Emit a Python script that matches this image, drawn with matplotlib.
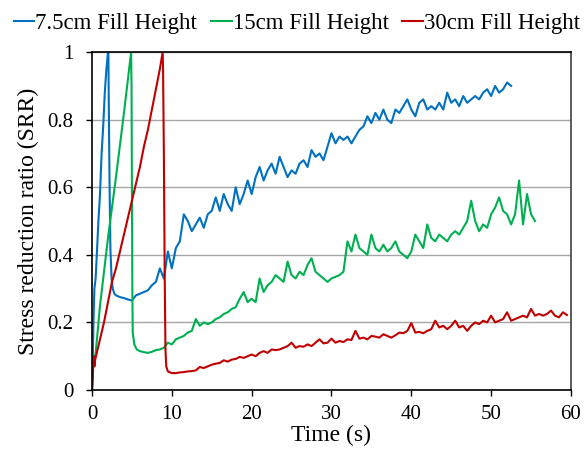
import numpy as np
from matplotlib import pyplot as plt

plt.rcParams['font.family'] = ['Liberation Serif', 'DejaVu Serif']

labels = ['7.5cm Fill Height', '15cm Fill Height', '30cm Fill Height']
colors = ['#0070C0', '#00B050', '#C00000']

# loading ramp + drop
blue_t_ramp = [0, 0.1, 0.2, 0.3, 0.45, 0.6, 0.8, 1.0, 1.2, 1.4, 1.6, 1.8, 2.0, 2.05,
               2.1, 2.2, 2.3, 2.45, 2.6, 2.8]
blue_y_ramp = [0, 0.10, 0.22, 0.30, 0.33, 0.40, 0.50, 0.58, 0.70, 0.78, 0.88, 0.95, 1.0, 1.0,
               0.85, 0.60, 0.42, 0.33, 0.30, 0.285]
# after the drop, sampled every 0.5 s from t0
blue_t0 = 3.0
blue_tail = [0.28, 0.275, 0.272, 0.268, 0.265, 0.28, 0.285, 0.29, 0.295, 0.31,
             0.32, 0.36, 0.33, 0.41, 0.36, 0.42, 0.44, 0.52, 0.50, 0.47,
             0.49, 0.51, 0.48, 0.52, 0.53, 0.57, 0.53, 0.58, 0.55, 0.53,
             0.60, 0.55, 0.58, 0.62, 0.58, 0.63, 0.66, 0.62, 0.65, 0.67,
             0.64, 0.69, 0.66, 0.63, 0.65, 0.64, 0.67, 0.68, 0.66, 0.71,
             0.69, 0.70, 0.68, 0.72, 0.76, 0.73, 0.75, 0.74, 0.75, 0.73,
             0.75, 0.77, 0.78, 0.81, 0.79, 0.82, 0.80, 0.83, 0.80, 0.79,
             0.83, 0.82, 0.84, 0.86, 0.83, 0.81, 0.85, 0.86, 0.83, 0.84,
             0.83, 0.85, 0.83, 0.88, 0.85, 0.86, 0.84, 0.87, 0.85, 0.86,
             0.87, 0.86, 0.88, 0.89, 0.87, 0.90, 0.88, 0.89, 0.91, 0.90]

green_t_ramp = [0, 0.1, 0.2, 0.3, 0.5, 1.0, 2.0, 3.0, 4.0, 4.9,
                4.95, 5.0, 5.05, 5.1, 5.3, 5.6]
green_y_ramp = [0, 0.06, 0.10, 0.08, 0.12, 0.25, 0.45, 0.63, 0.82, 1.0,
                0.90, 0.60, 0.30, 0.17, 0.135, 0.12]
green_t0 = 6.0
green_tail = [0.115, 0.112, 0.11, 0.113, 0.118, 0.12, 0.125, 0.14, 0.135, 0.15,
              0.155, 0.16, 0.17, 0.175, 0.21, 0.19, 0.20, 0.195, 0.20, 0.21,
              0.215, 0.225, 0.23, 0.24, 0.245, 0.27, 0.29, 0.26, 0.27, 0.26,
              0.33, 0.29, 0.31, 0.32, 0.34, 0.33, 0.32, 0.38, 0.34, 0.33,
              0.35, 0.34, 0.37, 0.39, 0.35, 0.34, 0.33, 0.32, 0.33, 0.335,
              0.34, 0.35, 0.44, 0.41, 0.46, 0.42, 0.41, 0.40, 0.46, 0.42,
              0.41, 0.43, 0.41, 0.42, 0.44, 0.41, 0.40, 0.39, 0.41, 0.46,
              0.44, 0.42, 0.49, 0.45, 0.44, 0.46, 0.45, 0.44, 0.46, 0.47,
              0.46, 0.48, 0.50, 0.56, 0.50, 0.47, 0.49, 0.48, 0.52, 0.54,
              0.57, 0.53, 0.52, 0.49, 0.52, 0.62, 0.49, 0.58, 0.52, 0.50]

red_t_ramp = [0, 0.1, 0.2, 0.3, 0.4, 0.6, 0.8, 1.0, 1.5, 2.0, 2.5, 3.0, 3.5, 4.0,
              4.5, 5.0, 5.5, 6.0, 6.5, 7.0, 7.5, 8.0, 8.5, 8.85,
              8.9, 9.0, 9.1, 9.2, 9.3, 9.5]
red_y_ramp = [0, 0.04, 0.10, 0.07, 0.09, 0.11, 0.13, 0.15, 0.20, 0.26, 0.32, 0.36, 0.41, 0.46,
              0.51, 0.56, 0.61, 0.66, 0.72, 0.77, 0.83, 0.89, 0.95, 1.0,
              0.95, 0.70, 0.35, 0.12, 0.07, 0.055]
red_t0 = 10.0
red_tail = [0.05, 0.05, 0.052, 0.053, 0.055, 0.056, 0.058, 0.068, 0.065, 0.07,
            0.075, 0.078, 0.08, 0.088, 0.084, 0.09, 0.092, 0.098, 0.095, 0.10,
            0.105, 0.10, 0.11, 0.115, 0.11, 0.12, 0.118, 0.12, 0.125, 0.13,
            0.14, 0.125, 0.13, 0.128, 0.135, 0.13, 0.14, 0.15, 0.138, 0.14,
            0.152, 0.14, 0.145, 0.142, 0.15, 0.148, 0.175, 0.152, 0.155, 0.15,
            0.16, 0.158, 0.155, 0.165, 0.16, 0.155, 0.162, 0.17, 0.168, 0.175,
            0.198, 0.17, 0.172, 0.168, 0.175, 0.18, 0.205, 0.185, 0.19, 0.18,
            0.19, 0.205, 0.185, 0.19, 0.175, 0.19, 0.2, 0.195, 0.205, 0.2,
            0.22, 0.2, 0.205, 0.21, 0.23, 0.205, 0.21, 0.215, 0.22, 0.215,
            0.24, 0.22, 0.225, 0.22, 0.225, 0.235, 0.22, 0.215, 0.23, 0.222]


def series(t_ramp, y_ramp, t0, tail):
    t_tail = t0 + 0.5 * np.arange(len(tail))
    return np.concatenate([t_ramp, t_tail]), np.concatenate([y_ramp, tail])


data = [series(blue_t_ramp, blue_y_ramp, blue_t0, blue_tail),
        series(green_t_ramp, green_y_ramp, green_t0, green_tail),
        series(red_t_ramp, red_y_ramp, red_t0, red_tail)]

fig = plt.figure(figsize=(5.88, 4.57), dpi=100)
ax = fig.add_axes([0.1565, 0.1466, 0.8145, 0.7394])

for (x, y), c, lab in zip(data, colors, labels):
    ax.plot(x, y, color=c, lw=1.5, label=lab)

ax.set_xlim(0, 60)
ax.set_ylim(0, 1)
ax.set_xticks(range(0, 61, 10))
ax.set_yticks([0, 0.2, 0.4, 0.6, 0.8, 1])
ax.set_yticklabels(['0', '0.2', '0.4', '0.6', '0.8', '1'])
ax.yaxis.grid(True, color='#A6A6A6', lw=1)
ax.set_axisbelow(True)
for s in ['left', 'bottom', 'top']:
    ax.spines[s].set_color('black')
    ax.spines[s].set_linewidth(1.2)
ax.spines['right'].set_color('#404040')
ax.spines['right'].set_linewidth(1.2)
ax.tick_params(axis='both', direction='out', length=4.5, width=1.0, labelsize=15)
ax.tick_params(axis='y', pad=9)
ax.tick_params(axis='x', pad=6)

ax.set_xlabel('Time (s)', fontsize=17, labelpad=1)
ax.set_ylabel('Stress reduction ratio (SRR)', fontsize=17, labelpad=6)

fig.legend(loc='upper center', bbox_to_anchor=(0.505, 1.0), ncol=3, frameon=False,
           fontsize=16.5, handlelength=0.9, handletextpad=0.05, columnspacing=0.6,
           borderaxespad=0.15)

fig.savefig('out.png', dpi=100)
